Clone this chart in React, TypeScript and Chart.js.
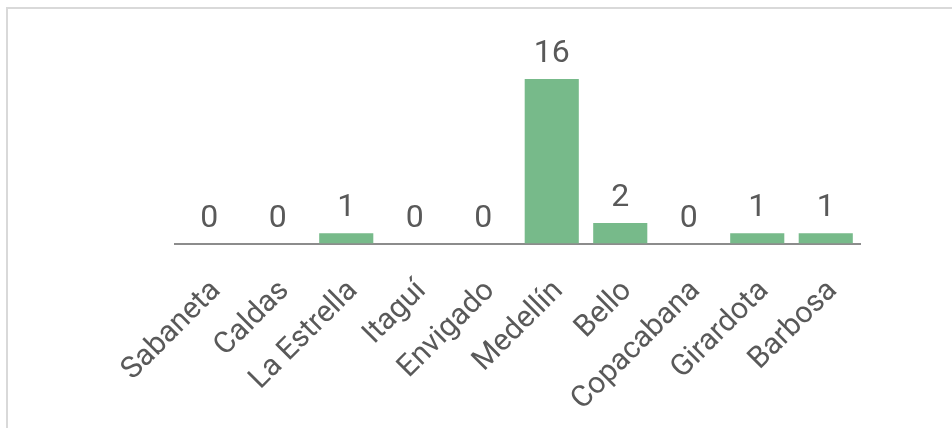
import React, { useEffect, useRef } from "react";
import { Chart, registerables } from "chart.js";

Chart.register(...registerables);

const categories = ["Sabaneta", "Caldas", "La Estrella", "Itaguí", "Envigado", "Medellín", "Bello", "Copacabana", "Girardota", "Barbosa"];
const values = [0, 0, 1, 0, 0, 16, 2, 0, 1, 1];

const FONT = "Roboto, 'DejaVu Sans', sans-serif";
const TEXT = "#595959";

const valueLabels = {
  id: "valueLabels",
  afterDatasetsDraw(chart: any) {
    const ctx = chart.ctx;
    const meta = chart.getDatasetMeta(0);
    ctx.save();
    ctx.fillStyle = TEXT;
    ctx.font = `32px ${FONT}`;
    ctx.textAlign = "center";
    ctx.textBaseline = "alphabetic";
    meta.data.forEach((el: any, i: number) => {
      ctx.fillText(String(values[i]), el.x, el.y - 17);
    });
    ctx.restore();
  },
};

export default function App() {
  const ref = useRef<HTMLCanvasElement | null>(null);
  useEffect(() => {
    if (!ref.current) return;
    const chart = new Chart(ref.current, {
      type: "bar",
      data: {
        labels: categories,
        datasets: [
          {
            data: values,
            backgroundColor: "#77BA8A",
            barPercentage: 0.79,
            categoryPercentage: 1,
          },
        ],
      },
      options: {
        animation: false,
        responsive: false,
        devicePixelRatio: 1,
        layout: { padding: { left: 175, right: 92, top: 79, bottom: 20 } },
        plugins: { legend: { display: false }, tooltip: { enabled: false } },
        scales: {
          y: { display: false, min: 0, max: 16 },
          x: {
            grid: { display: false, drawTicks: false },
            border: { display: true, color: "#8c8c8c", width: 2 },
            ticks: {
              minRotation: 45,
              maxRotation: 45,
              autoSkip: false,
              color: TEXT,
              padding: 30,
              labelOffset: 7,
              font: { family: FONT, size: 30 },
            },
          },
        },
      },
      plugins: [valueLabels],
    });
    return () => chart.destroy();
  }, []);
  return (
    <div style={{ position: "fixed", left: 0, top: 0, width: 952, height: 428, overflow: "hidden", background: "#fff" }}>
      <div style={{ position: "absolute", left: 6, top: 7, width: 2000, height: 2000, borderLeft: "2px solid #d9d9d9", borderTop: "2px solid #d9d9d9" }} />
      <canvas ref={ref} width={952} height={428} style={{ position: "absolute", left: 0, top: 0 }} />
    </div>
  );
}
